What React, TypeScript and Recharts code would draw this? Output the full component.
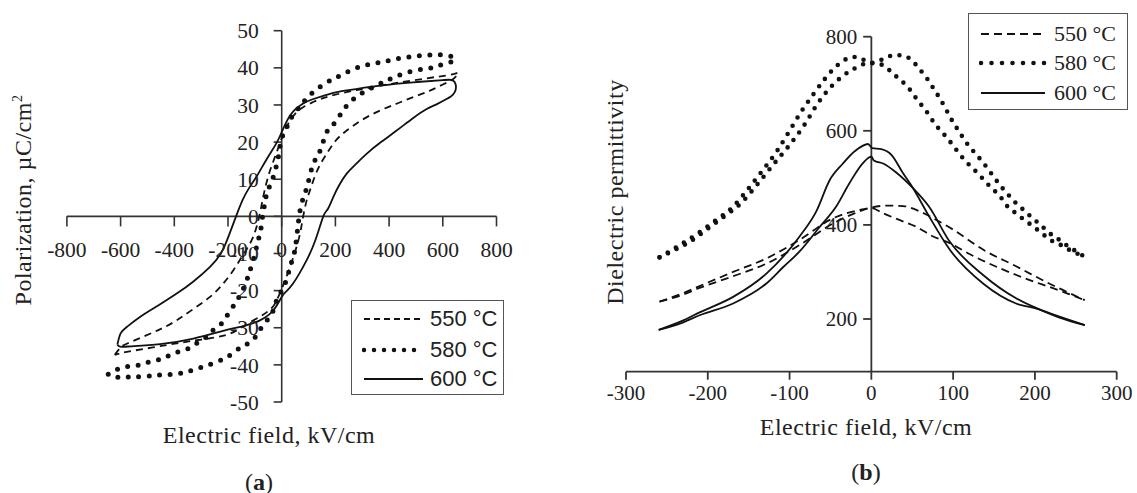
import React from 'react';
import { LineChart, Line, XAxis, YAxis, ReferenceLine } from 'recharts';

type Pt = [number, number];

// (a) P–E hysteresis loops: [field kV/cm, polarization µC/cm²], traced around the loop
const loop550: Pt[] = [
  [-622, -37.3], [-600, -35.3], [-577, -34.3], [-515, -32.4], [-450, -30.3], [-391, -28], [-330, -25],
  [-267, -21.7], [-220, -18.3], [-180, -14.5], [-145, -10.5], [-118, -7.3], [-100, -4.3], [-87, -1.1],
  [-75, 3], [-62, 7.5], [-45, 12], [-25, 16], [-10, 19], [0, 21], [15, 23.5], [31, 25.8], [55, 28],
  [80, 29.4], [130, 31.2], [180, 32.4], [250, 33.6], [317, 34.5], [400, 35.6], [490, 36.6], [580, 37.6],
  [640, 38.3], [658, 38.6], [639, 37], [600, 35.5], [550, 33.8], [490, 32.1], [430, 30.4], [366, 28.5],
  [300, 26], [242, 23.1], [200, 20.3], [168, 16.9], [140, 13.5], [118, 9.7], [103, 6.5], [93, 4.3],
  [80, 0], [68, -4.7], [50, -9.5], [31, -13.6], [15, -16.8], [0, -19.5], [-25, -23.5], [-50, -25.5],
  [-81, -27], [-140, -29.5], [-205, -31.9], [-300, -33.2], [-391, -34.2], [-480, -35.3], [-577, -36.5],
  [-622, -37.3],
];

const loop580: Pt[] = [
  [-646, -42.5], [-612, -41.2], [-577, -40.5], [-534, -40.1], [-497, -39.3], [-453, -38.5], [-422, -37.6],
  [-385, -36.5], [-348, -35.6], [-317, -34.2], [-279, -32.4], [-255, -30.6], [-223, -28.8], [-199, -26.2],
  [-174, -23.5], [-155, -21.2], [-137, -18.5], [-124, -15.9], [-112, -13.2], [-99, -10], [-91, -7.3],
  [-81, -4.7], [-75, -2], [-69, 1.1], [-62, 3.8], [-54, 6.5], [-37, 9.5], [-22, 13], [-10, 17], [0, 21],
  [19, 24], [31, 26], [56, 28.5], [80, 30.7], [118, 33.5], [168, 36.1], [205, 37.4], [279, 40], [354, 41.3],
  [428, 42.4], [515, 43.3], [590, 43.5], [633, 43], [642, 41.9], [602, 41], [565, 40.1], [490, 39.2],
  [416, 37.4], [366, 35.7], [304, 33.4], [242, 29.8], [199, 25.3], [168, 22.7], [143, 17.7], [118, 14.2],
  [99, 9.2], [87, 6.3], [74, 3.4], [66, 0.5], [60, -3], [52, -7.8], [43, -10.9], [31, -13.6], [19, -16.8],
  [0, -20], [-19, -22.6], [-37, -26.2], [-69, -29.3], [-93, -32], [-120, -34], [-149, -35.1], [-186, -37.1],
  [-217, -38.4], [-255, -39.6], [-292, -40.5], [-329, -41.4], [-366, -42.1], [-404, -42.5], [-447, -42.7],
  [-484, -42.9], [-528, -43.2], [-565, -43.2], [-602, -43.4], [-646, -42.5],
];

const loop600: Pt[] = [
  [-612, -34.5], [-600, -31.5], [-577, -29.8], [-528, -27.1], [-460, -24], [-391, -20.8], [-330, -17.6],
  [-267, -13.6], [-225, -9.8], [-197, -5.2], [-170, 0], [-145, 4.5], [-120, 7.8], [-93, 10.8], [-55, 15.5],
  [-19, 19.8], [0, 22.7], [20, 25.8], [43, 28.3], [80, 30.4], [118, 31.6], [180, 33], [242, 33.9], [366, 35.2],
  [490, 36.1], [600, 36.7], [636, 36.7], [648, 35.5], [645, 33.5], [630, 32.3], [614, 31.6], [580, 30.3],
  [540, 28.9], [490, 26.5], [428, 23.1], [370, 20], [317, 16.9], [275, 14], [242, 11.5], [215, 8.5],
  [192, 5.2], [172, 2], [155, 0], [125, -6.5], [93, -11.8], [65, -15.5], [43, -18], [20, -20], [0, -21.7],
  [-31, -25.3], [-81, -28], [-140, -29.5], [-205, -30.6], [-329, -32.9], [-453, -34.4], [-560, -35],
  [-602, -35.1], [-612, -34.5],
];

const fieldTicksA = [-800, -600, -400, -200, 0, 200, 400, 600, 800];
const polTicks = [-50, -40, -30, -20, -10, 0, 10, 20, 30, 40, 50];

// (b) permittivity vs field, two sweeps per temperature: [field kV/cm, permittivity]
const eps550a: Pt[] = [
  [-259, 237], [-230, 255], [-210, 270], [-169, 300], [-128, 329], [-88, 368], [-47, 414], [-14, 432],
  [0, 436], [14, 425], [35, 410], [55, 396], [75, 376], [96, 361], [120, 338], [157, 308], [198, 280],
  [218, 268], [240, 254], [261, 240],
];
const eps550b: Pt[] = [
  [-259, 237], [-230, 252], [-210, 266], [-169, 291], [-128, 318], [-88, 357], [-47, 403], [-20, 425],
  [0, 437], [20, 441], [39, 440], [60, 428], [80, 410], [100, 390], [137, 347], [177, 312], [218, 275],
  [240, 257], [261, 240],
];
const eps580a: Pt[] = [
  [-259, 331], [-237, 354], [-212, 382], [-190, 410], [-170, 437], [-150, 478], [-132, 518], [-115, 558],
  [-100, 600], [-86, 640], [-72, 675], [-57, 710], [-43, 737], [-30, 753], [-18, 757], [-6, 748], [2, 743],
  [14, 740], [26, 722], [37, 706], [46, 690], [54, 671], [62, 653], [70, 635], [77, 616], [86, 598],
  [94, 582], [102, 564], [110, 546], [120, 527], [130, 510], [139, 493], [147, 478], [157, 462], [165, 442],
  [175, 427], [186, 412], [197, 398], [208, 383], [218, 369], [230, 359], [241, 348], [253, 338], [259, 334],
];
const eps580b: Pt[] = [
  [-259, 331], [-237, 350], [-224, 362], [-200, 392], [-180, 418], [-160, 445], [-140, 485], [-120, 528],
  [-100, 570], [-84, 607], [-64, 662], [-48, 696], [-33, 719], [-20, 733], [-7, 743], [3, 745], [14, 752],
  [28, 761], [41, 759], [51, 747], [60, 729], [69, 709], [76, 690], [83, 671], [90, 650], [96, 630],
  [103, 610], [110, 591], [117, 573], [125, 556], [135, 536], [143, 518], [151, 499], [159, 481], [167, 465],
  [177, 446], [186, 432], [196, 416], [207, 400], [216, 385], [230, 368], [241, 354], [253, 341], [259, 334],
];
const eps600a: Pt[] = [
  [-260, 177], [-230, 197], [-210, 214], [-169, 247], [-128, 297], [-88, 375], [-67, 430], [-51, 495],
  [-35, 530], [-20, 557], [-4, 572], [1, 563], [12, 561], [25, 548], [38, 512], [51, 478], [70, 420],
  [96, 347], [137, 275], [177, 233], [202, 222], [230, 205], [261, 187],
];
const eps600b: Pt[] = [
  [-260, 177], [-230, 193], [-210, 208], [-169, 233], [-128, 276], [-108, 310], [-88, 343], [-63, 396],
  [-43, 439], [-27, 488], [-10, 532], [0, 545], [3, 537], [15, 530], [30, 512], [51, 478], [70, 440],
  [96, 364], [137, 293], [177, 244], [202, 223], [230, 203], [261, 187],
];

const fieldTicksB = [-300, -200, -100, 0, 100, 200, 300];
const epsTicks = [200, 400, 600, 800];

const legendLabels = ['550 °C', '580 °C', '600 °C'];

const rows = (pts: Pt[]) => pts.map(([x, y]) => ({ x, y }));

const INK = '#111';
const AXIS = '#333';
const SERIF = '"Liberation Serif", "Times New Roman", serif';

const dashA = { strokeDasharray: '7 5', strokeWidth: 1.8 };
const dotA = { strokeDasharray: '0 10.5', strokeWidth: 5, strokeLinecap: 'round' as const };
const solidA = { strokeWidth: 1.8 };
const dashB = { strokeDasharray: '8 5', strokeWidth: 1.8 };
const dotB = { strokeDasharray: '0 9.5', strokeWidth: 4.6, strokeLinecap: 'round' as const };

function LegendBox({ left, top, width, height, rowYs, sample, textX, font, size, dash, dot, dotW }: any) {
  return (
    <div style={{ position: 'absolute', left, top, width, height, border: '1.5px solid #555', boxSizing: 'border-box', background: '#fff' }}>
      {legendLabels.map((lab, i) => (
        <div key={lab} style={{ position: 'absolute', left: 0, top: rowYs[i] - top - 14, height: 28, width: '100%' }}>
          <svg style={{ position: 'absolute', left: sample[0] - left, top: 0 }} width={sample[1] - sample[0] + 4} height={28}>
            <line
              x1={2}
              x2={sample[1] - sample[0] + 2}
              y1={14}
              y2={14}
              stroke={INK}
              strokeWidth={i === 1 ? dotW : 1.8}
              strokeDasharray={i === 0 ? dash : i === 1 ? dot : undefined}
              strokeLinecap={i === 1 ? 'round' : 'butt'}
            />
          </svg>
          <span style={{ position: 'absolute', left: textX - left, top: 14, transform: 'translateY(-50%)', fontFamily: font, fontSize: size, color: '#222', whiteSpace: 'nowrap', lineHeight: 1 }}>
            {lab}
          </span>
        </div>
      ))}
    </div>
  );
}

const tickLabel = (v: number, position: string, offset: number, size: number) => ({
  value: String(v),
  position,
  offset,
  fill: '#222',
  fontSize: size,
});

const title: React.CSSProperties = {
  position: 'absolute',
  fontSize: 24,
  letterSpacing: 0.5,
  whiteSpace: 'nowrap',
  color: '#222',
  lineHeight: 1,
};

export default function App() {
  return (
    <div style={{ position: 'absolute', left: 0, top: 0, width: 1137, height: 493, background: '#fff', fontFamily: SERIF }}>
      {/* panel (a) */}
      <div style={{ position: 'absolute', left: 0, top: 0 }}>
        <LineChart width={560} height={493} margin={{ top: 30.7, right: 63.5, bottom: 91, left: 66.9 }}>
          <XAxis type="number" dataKey="x" domain={[-800, 800]} allowDataOverflow hide />
          <YAxis type="number" dataKey="y" domain={[-50, 50]} allowDataOverflow hide />
          <ReferenceLine x={0} stroke={AXIS} strokeWidth={1.6} />
          <ReferenceLine y={0} stroke={AXIS} strokeWidth={1.6} />
          {polTicks.map((v) => (
            <ReferenceLine
              key={'py' + v}
              segment={[{ x: -30, y: v }, { x: 0, y: v }]}
              stroke={AXIS}
              strokeWidth={1.6}
              label={tickLabel(v, 'left', 15, 21.5) as any}
            />
          ))}
          {fieldTicksA.map((v) => (
            <ReferenceLine
              key={'px' + v}
              segment={[{ x: v, y: 0 }, { x: v, y: -2.7 }]}
              stroke={AXIS}
              strokeWidth={1.6}
              label={tickLabel(v, 'bottom', 15, 21.5) as any}
            />
          ))}
          <Line data={rows(loop580)} dataKey="y" type="natural" stroke={INK} {...dotA} dot={false} isAnimationActive={false} />
          <Line data={rows(loop550)} dataKey="y" type="natural" stroke={INK} {...dashA} dot={false} isAnimationActive={false} />
          <Line data={rows(loop600)} dataKey="y" type="natural" stroke={INK} {...solidA} dot={false} isAnimationActive={false} />
        </LineChart>
      </div>

      {/* panel (b) */}
      <div style={{ position: 'absolute', left: 580, top: 0 }}>
        <LineChart width={557} height={493} margin={{ top: 36.7, right: 20.3, bottom: 91.3, left: 46 }}>
          <XAxis
            type="number"
            dataKey="x"
            domain={[-300, 300]}
            ticks={fieldTicksB}
            allowDataOverflow
            height={30}
            tickSize={8}
            tickMargin={5}
            axisLine={{ stroke: AXIS, strokeWidth: 1.8 }}
            tickLine={{ stroke: AXIS, strokeWidth: 1.8 }}
            tick={{ fill: '#222', fontSize: 21 }}
          />
          <YAxis type="number" dataKey="y" domain={[88, 800]} allowDataOverflow hide />
          <ReferenceLine x={0} stroke={AXIS} strokeWidth={1.8} />
          {epsTicks.map((v) => (
            <ReferenceLine
              key={'ey' + v}
              segment={[{ x: -10, y: v }, { x: 0, y: v }]}
              stroke={AXIS}
              strokeWidth={1.8}
              label={tickLabel(v, 'left', 6, 21) as any}
            />
          ))}
          <Line data={rows(eps580a)} dataKey="y" type="monotone" stroke={INK} {...dotB} dot={false} isAnimationActive={false} />
          <Line data={rows(eps580b)} dataKey="y" type="monotone" stroke={INK} {...dotB} dot={false} isAnimationActive={false} />
          <Line data={rows(eps550a)} dataKey="y" type="monotone" stroke={INK} {...dashB} dot={false} isAnimationActive={false} />
          <Line data={rows(eps550b)} dataKey="y" type="monotone" stroke={INK} {...dashB} dot={false} isAnimationActive={false} />
          <Line data={rows(eps600a)} dataKey="y" type="monotone" stroke={INK} strokeWidth={1.8} dot={false} isAnimationActive={false} />
          <Line data={rows(eps600b)} dataKey="y" type="monotone" stroke={INK} strokeWidth={1.8} dot={false} isAnimationActive={false} />
        </LineChart>
      </div>

      {/* axis titles and captions */}
      <div style={{ ...title, left: 23, top: 200, transform: 'translate(-50%, -50%) rotate(-90deg)' }}>
        Polarization, µC/cm<sup style={{ fontSize: 14 }}>2</sup>
      </div>
      <div style={{ ...title, left: 269, top: 435, transform: 'translate(-50%, -50%)' }}>Electric field, kV/cm</div>
      <div style={{ ...title, left: 259, top: 482, transform: 'translate(-50%, -50%)', letterSpacing: 0 }}>
        (<b>a</b>)
      </div>
      <div style={{ ...title, left: 615, top: 192, transform: 'translate(-50%, -50%) rotate(-90deg)' }}>Dielectric permittivity</div>
      <div style={{ ...title, left: 866, top: 427, transform: 'translate(-50%, -50%)' }}>Electric field, kV/cm</div>
      <div style={{ ...title, left: 866, top: 472, transform: 'translate(-50%, -50%)', letterSpacing: 0 }}>
        (<b>b</b>)
      </div>

      <LegendBox
        left={351}
        top={300}
        width={153}
        height={95}
        rowYs={[318, 349, 378]}
        sample={[361, 420]}
        textX={429}
        font='"Liberation Sans", Arial, sans-serif'
        size={22}
        dash="6 4"
        dot="0 10"
        dotW={4.5}
      />
      <LegendBox
        left={968}
        top={13}
        width={160}
        height={97}
        rowYs={[33, 62, 92]}
        sample={[978, 1042]}
        textX={1053}
        font={SERIF}
        size={22}
        dash="8 5"
        dot="0 10.5"
        dotW={4.6}
      />
    </div>
  );
}
